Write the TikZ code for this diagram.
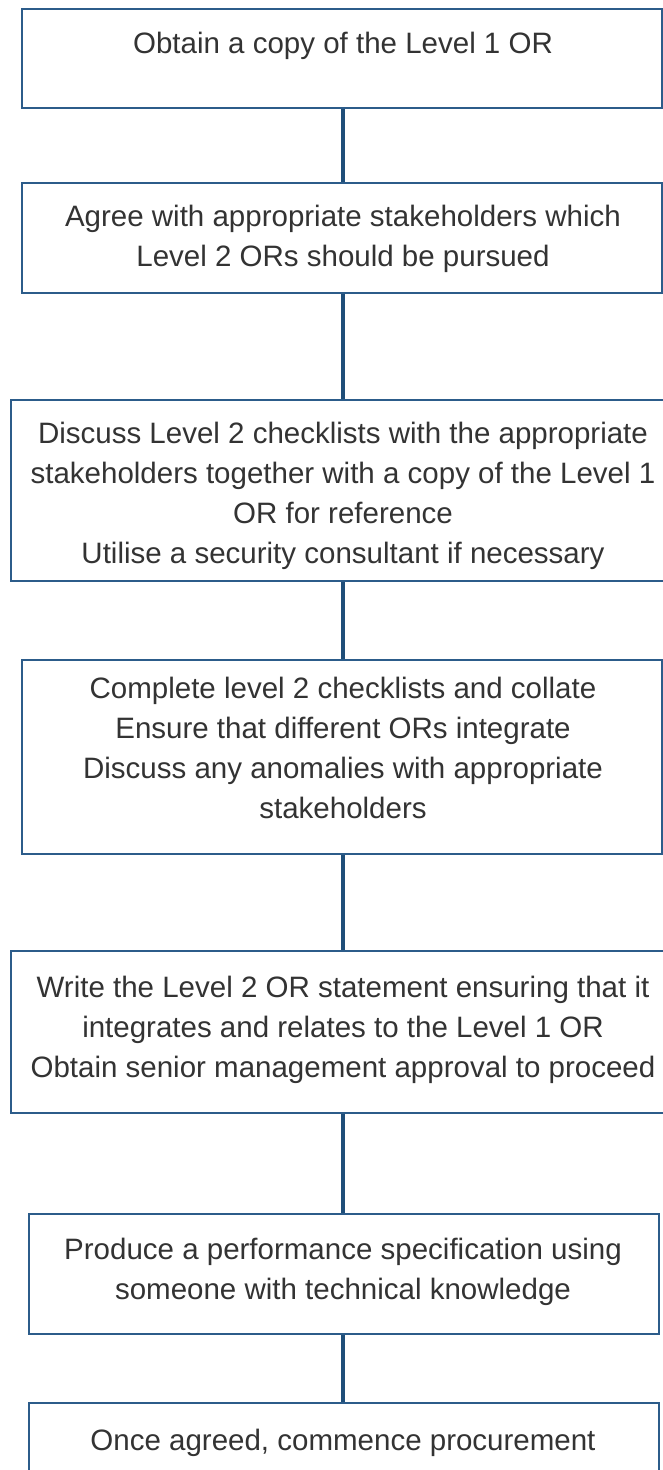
\documentclass[tikz,border=0pt]{standalone}
\usepackage{fontspec}
\setmainfont{Liberation Sans}
\definecolor{boxline}{RGB}{44,92,138}
\definecolor{conn}{RGB}{31,78,121}
\definecolor{txt}{RGB}{51,51,51}
\begin{document}
\begin{tikzpicture}[x=1pt,y=-1pt,
  stepbox/.style={draw=boxline,line width=1.8pt,fill=white,rectangle,inner sep=0pt,anchor=north west},
  steptext/.style={align=center,inner sep=0pt,text=txt,font=\fontsize{29.5}{40}\selectfont},
  link/.style={draw=conn,line width=3.6pt}]
\useasboundingbox (0,0) rectangle (662,1470);
\coordinate (axis) at (343,0);
% boxes
\node[stepbox,minimum width=640pt,minimum height=99pt]  (b1) at (21,8) {};
\node[stepbox,minimum width=640pt,minimum height=110pt] (b2) at (21,182) {};
\node[stepbox,minimum width=666pt,minimum height=181pt] (b3) at (10,399) {};
\node[stepbox,minimum width=640pt,minimum height=194pt] (b4) at (21,659) {};
\node[stepbox,minimum width=666pt,minimum height=162pt] (b5) at (10,950) {};
\node[stepbox,minimum width=630pt,minimum height=120pt] (b6) at (28,1213) {};
\node[stepbox,minimum width=630pt,minimum height=140pt] (b7) at (28,1402) {};
% connectors
\draw[link] (b1.south -| axis) -- (b2.north -| axis);
\draw[link] (b2.south -| axis) -- (b3.north -| axis);
\draw[link] (b3.south -| axis) -- (b4.north -| axis);
\draw[link] (b4.south -| axis) -- (b5.north -| axis);
\draw[link] (b5.south -| axis) -- (b6.north -| axis);
\draw[link] (b6.south -| axis) -- (b7.north -| axis);
% texts
\node[steptext] (t1) at (343,45.6) {\strut Obtain a copy of the Level 1 OR\strut};
\node[steptext] (t2) at (343,238.6) {\strut Agree with appropriate stakeholders which\\Level 2 ORs should be pursued\strut};
\node[steptext] (t3) at (343,495) {\strut Discuss Level 2 checklists with the appropriate\\stakeholders together with a copy of the Level 1\\OR for reference\\Utilise a security consultant if necessary\strut};
\node[steptext] (t4) at (343,750) {\strut Complete level 2 checklists and collate\\Ensure that different ORs integrate\\Discuss any anomalies with appropriate\\stakeholders\strut};
\node[steptext] (t5) at (343,1029) {\strut Write the Level 2 OR statement ensuring that it\\integrates and relates to the Level 1 OR\\Obtain senior management approval to proceed\strut};
\node[steptext] (t6) at (343,1271) {\strut Produce a performance specification using\\someone with technical knowledge\strut};
\node[steptext] (t7) at (343,1442.6) {\strut Once agreed, commence procurement\strut};
\end{tikzpicture}
\end{document}
